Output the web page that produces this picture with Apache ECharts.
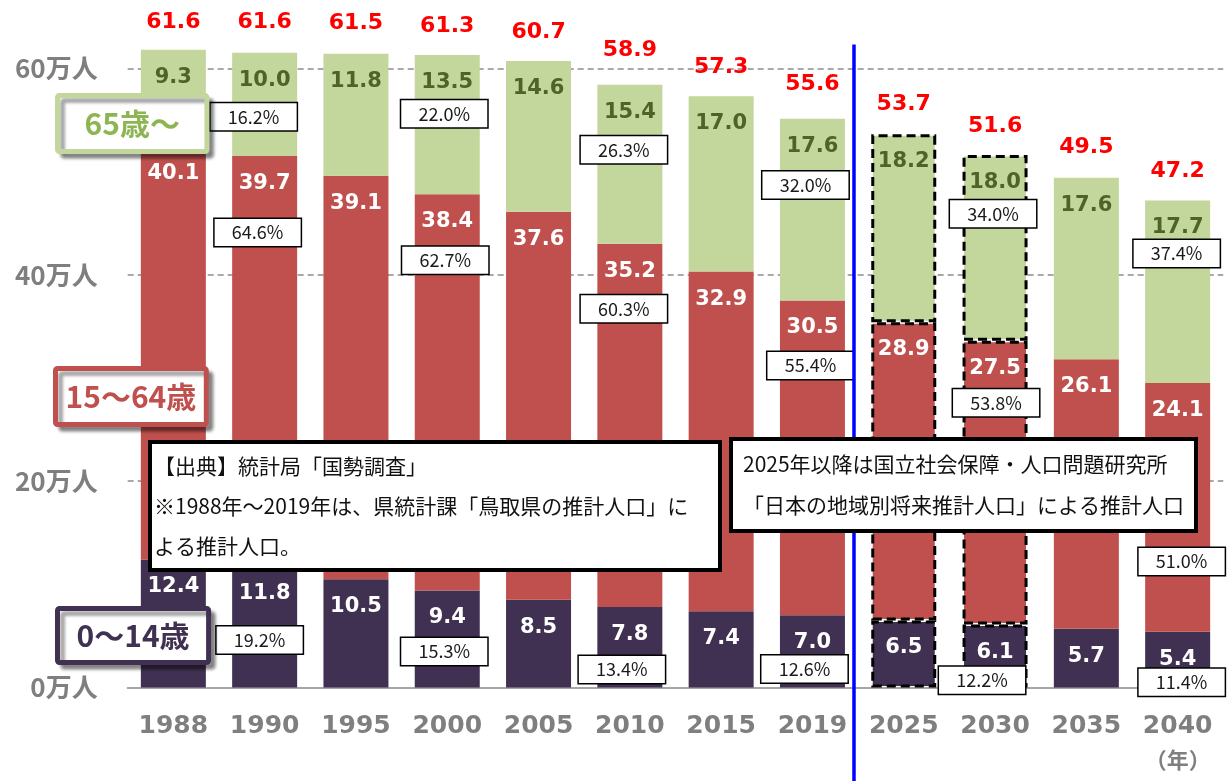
<!DOCTYPE html>
<html><head><meta charset="utf-8">
<script src="https://cdn.jsdelivr.net/npm/echarts@6/dist/echarts.min.js"></script>
<style>html,body{margin:0;padding:0;background:#fff}#c{width:1227px;height:781px}</style>
</head><body><div id="c"></div>
<script>
// ---- data ----
const years = ['1988','1990','1995','2000','2005','2010','2015','2019','2025','2030','2035','2040'];
const age0_14  = [12.4,11.8,10.5,9.4,8.5,7.8,7.4,7.0,6.5,6.1,5.7,5.4];
const age15_64 = [40.1,39.7,39.1,38.4,37.6,35.2,32.9,30.5,28.9,27.5,26.1,24.1];
const age65    = [9.3,10.0,11.8,13.5,14.6,15.4,17.0,17.6,18.2,18.0,17.6,17.7];
const totals   = [61.6,61.6,61.5,61.3,60.7,58.9,57.3,55.6,53.7,51.6,49.5,47.2];
const pct65    = [null,16.2,null,22.0,null,26.3,null,32.0,null,34.0,null,37.4];
const pct15_64 = [null,64.6,null,62.7,null,60.3,null,55.4,null,53.8,null,51.0];
const pct0_14  = [null,19.2,null,15.3,null,13.4,null,12.6,null,12.2,null,11.4];
const yTicks = [0,20,40,60];
const projected = ['2025','2030'];
const seriesNames = ['0〜14歳','15〜64歳','65歳〜'];
const noteSource = '【出典】統計局「国勢調査」\n※1988年〜2019年は、県統計課「鳥取県の推計人口」に\nよる推計人口。';
const noteProjection = '2025年以降は国立社会保障・人口問題研究所\n「日本の地域別将来推計人口」による推計人口';

// ---- layout of the percentage boxes: [y in axis units, x offset px] ----
const pos65    = [null,[55.3,-11],null,[55.6,-3],null,[52.1,-6],null,[48.7,-7],null,[45.9,-2],null,[42.05,-1]];
const pos15_64 = [null,[44.1,-7],null,[41.4,-2],null,[36.7,-6],null,[31.2,-2],null,[27.6,1],null,[12.2,4]];
const pos0_14  = [null,[4.6,-5],null,[3.5,-3],null,[1.75,-8],null,[1.8,-8],null,[0.7,-13],null,[0.5,4]];

const C_PURPLE = '#403152', C_RED = '#c0504d', C_GREEN = '#c3d69b';
const NUM_FONT = 'DejaVu Sans';
const JP_FONT = 'Noto Sans CJK JP';
const Y_MAX = 66.6;

const chart = echarts.init(document.getElementById('c'), null, {renderer: 'canvas'});

function barData(arr) {
  return arr.map((v, i) => projected.includes(years[i])
    ? {value: v, itemStyle: {borderColor: '#000', borderWidth: 3, borderType: [9, 5]}}
    : v);
}
function pctData(pcts, pos) {
  const out = [];
  pcts.forEach((p, i) => {
    if (p == null) return;
    out.push({value: [i, pos[i][0], p], label: {offset: [pos[i][1], 0]}});
  });
  return out;
}
const pctSeries = (pcts, pos) => ({
  type: 'scatter', data: pctData(pcts, pos), symbolSize: 0.1, z: 4,
  itemStyle: {color: 'rgba(0,0,0,0)', opacity: 1}, silent: true,
  label: {
    show: true, position: 'inside', formatter: p => p.value[2].toFixed(1) + '%',
    fontFamily: JP_FONT, fontSize: 18, color: '#1a1a1a', opacity: 1,
    backgroundColor: '#ffffff', borderColor: '#000', borderWidth: 1.5,
    width: 82, align: 'center', padding: [5, 2, 4, 2]
  }
});
const legendBox = (name, color, textColor, left, top, pad) => ({
  data: [name], left: left, top: top, icon: 'none', itemWidth: 0, itemHeight: 30,
  selectedMode: false, padding: pad, backgroundColor: '#fff',
  borderColor: color, borderWidth: 5, borderRadius: 2,
  shadowColor: 'rgba(0,0,0,0.35)', shadowBlur: 3, shadowOffsetX: 5, shadowOffsetY: 5, z: 10,
  textStyle: {color: textColor, fontSize: 30, fontWeight: 'bold', fontFamily: JP_FONT}
});
const insideLabel = (color) => ({
  show: true, position: 'insideTop', distance: 17, fontFamily: NUM_FONT,
  fontSize: 21, fontWeight: 'bold', color: color,
  formatter: p => Number(p.value).toFixed(1)
});

const option = {
  animation: false,
  backgroundColor: '#fff',
  grid: {left: 127.7, right: 3.7, top: 687.5 - Y_MAX * 10.32, bottom: 93.5},
  xAxis: {
    type: 'category', data: years,
    axisLine: {lineStyle: {color: '#a6a6a6', width: 2}},
    axisTick: {length: 10, lineStyle: {color: '#a6a6a6', width: 2}},
    axisLabel: {
      interval: 0, margin: 23, color: '#7f7f7f', fontFamily: NUM_FONT, fontSize: 25, fontWeight: 'bold',
      formatter: (v, i) => i === years.length - 1 ? '{a|' + v + '}\n{b|（年）}' : '{a|' + v + '}',
      rich: {
        a: {fontFamily: NUM_FONT, fontSize: 25, fontWeight: 'bold', color: '#7f7f7f', lineHeight: 32},
        b: {fontFamily: JP_FONT, fontSize: 22, fontWeight: 'bold', color: '#7f7f7f', lineHeight: 34}
      }
    }
  },
  yAxis: {
    type: 'value', min: 0, max: Y_MAX, interval: 20,
    axisLine: {show: false}, axisTick: {show: false},
    axisLabel: {
      margin: 30, color: '#7f7f7f', fontFamily: JP_FONT, fontSize: 26, fontWeight: 'bold',
      padding: [0, 0, 6, 0], showMaxLabel: false,
      formatter: v => yTicks.includes(v) ? v + '万人' : ''
    },
    splitLine: {showMaxLine: false, lineStyle: {color: '#8c8c8c', type: [6, 4], width: 1.5}}
  },
  legend: [
    legendBox(seriesNames[2], C_GREEN, '#8eb553', 57.5, 95.5, [13, 27, 13, 22]),
    legendBox(seriesNames[1], C_RED, C_RED, 55.5, 368.5, [13, 10, 13, 5]),
    legendBox(seriesNames[0], C_PURPLE, C_PURPLE, 57.5, 608.5, [12, 19, 12, 14])
  ],
  title: [
    {text: noteSource, left: 150, top: 442, padding: [4, 10, 4, 4], z: 10,
     backgroundColor: '#fff', borderColor: '#000', borderWidth: 4,
     textStyle: {fontFamily: JP_FONT, fontSize: 21, fontWeight: 'normal', color: '#111', lineHeight: 40, width: 556}},
    {text: noteProjection, left: 731, top: 439, padding: [5, 12, 5, 12], z: 10,
     backgroundColor: '#fff', borderColor: '#000', borderWidth: 4,
     textStyle: {fontFamily: JP_FONT, fontSize: 21, fontWeight: 'normal', color: '#111', lineHeight: 41, width: 440}}
  ],
  series: [
    {name: seriesNames[0], type: 'bar', stack: 'pop', barWidth: 65, data: barData(age0_14),
     itemStyle: {color: C_PURPLE}, label: insideLabel('#fff')},
    {name: seriesNames[1], type: 'bar', stack: 'pop', barWidth: 65, data: barData(age15_64),
     itemStyle: {color: C_RED}, label: insideLabel('#fff')},
    {name: seriesNames[2], type: 'bar', stack: 'pop', barWidth: 65, data: barData(age65),
     itemStyle: {color: C_GREEN}, label: insideLabel('#4f6228')},
    {type: 'scatter', data: totals, symbolSize: 0.1, z: 4, silent: true,
     itemStyle: {color: 'rgba(0,0,0,0)', opacity: 1},
     label: {show: true, position: 'top', distance: 18, fontFamily: NUM_FONT, fontSize: 22,
             fontWeight: 'bold', color: '#ff0000', formatter: p => p.value.toFixed(1)}},
    pctSeries(pct65, pos65),
    pctSeries(pct15_64, pos15_64),
    pctSeries(pct0_14, pos0_14)
  ]
};
chart.setOption(option);

// divider between estimates and projections (between 2019 and 2025)
const iLast = years.indexOf('2019');
const xa = chart.convertToPixel({xAxisIndex: 0}, iLast);
const xb = chart.convertToPixel({xAxisIndex: 0}, iLast + 1);
const xm = xa + (xb - xa) * 0.455;
const yTop = chart.convertToPixel({yAxisIndex: 0}, 62.3);
chart.setOption({graphic: [{type: 'line', z: 5, silent: true,
  shape: {x1: xm, y1: yTop, x2: xm, y2: chart.getHeight()},
  style: {stroke: '#0000ff', lineWidth: 3.5}}]});
</script>
</body></html>
